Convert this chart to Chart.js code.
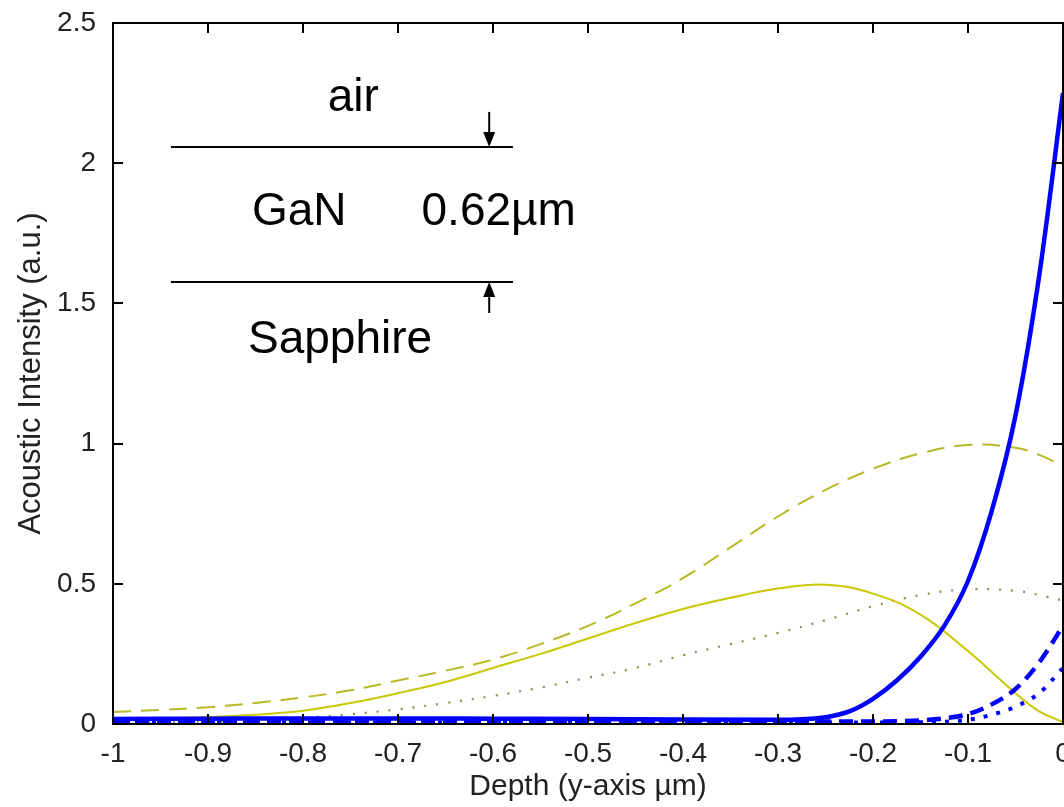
<!DOCTYPE html>
<html><head><meta charset="utf-8">
<script src="https://cdn.jsdelivr.net/npm/chart.js@4.4.0/dist/chart.umd.min.js"></script>
<style>html,body{margin:0;padding:0;background:#fff;overflow:hidden}#wrap{position:relative;width:1064px;height:807px}</style>
</head><body><div id="wrap"><canvas id="c"></canvas></div>
<script>
// ---- data ----
const depthX = [-1,-0.95,-0.9,-0.85,-0.8,-0.75,-0.7,-0.65,-0.6,-0.55,-0.5,-0.45,-0.4,-0.35,-0.3,-0.25,-0.2,-0.15,-0.1,-0.05,-0.025,0];
const yellowDashed = [0.043,0.05,0.06,0.075,0.095,0.12,0.155,0.19,0.23,0.285,0.35,0.43,0.52,0.63,0.74,0.835,0.91,0.965,0.995,0.985,0.96,0.92];
const yellowSolid  = [0.015,0.02,0.025,0.033,0.047,0.075,0.11,0.15,0.2,0.25,0.305,0.36,0.41,0.45,0.483,0.497,0.465,0.39,0.26,0.11,0.045,0.007];
const yellowDotted = [0.003,0.005,0.008,0.013,0.022,0.035,0.052,0.075,0.1,0.13,0.165,0.2,0.245,0.285,0.325,0.37,0.42,0.46,0.48,0.475,0.46,0.44];

const blueX = [-1,-0.9,-0.8,-0.7,-0.6,-0.5,-0.4,-0.3,-0.275,-0.25,-0.225,-0.2,-0.175,-0.15,-0.125,-0.1,-0.075,-0.05,-0.025,0];
const blueSolid  = [0.018,0.019,0.02,0.02,0.019,0.018,0.016,0.015,0.017,0.024,0.045,0.09,0.155,0.24,0.35,0.51,0.76,1.1,1.6,2.25];
const blueDashed = [0.01,0.01,0.011,0.011,0.01,0.01,0.01,0.009,0.009,0.009,0.009,0.009,0.01,0.013,0.02,0.035,0.07,0.125,0.22,0.35];
const blueDotted = [0.005,0.005,0.005,0.005,0.005,0.005,0.005,0.005,0.005,0.005,0.005,0.005,0.005,0.006,0.008,0.015,0.033,0.062,0.11,0.2];

const xTickLabels = ['-1','-0.9','-0.8','-0.7','-0.6','-0.5','-0.4','-0.3','-0.2','-0.1','0'];
const yTickLabels = ['0','0.5','1','1.5','2','2.5'];

// inset annotation (data units)
const inset = {
  texts: [
    {t:'air', x:-0.747, y:2.186},
    {t:'GaN', x:-0.804, y:1.78},
    {t:'0.62\u00b5m', x:-0.594, y:1.78},
    {t:'Sapphire', x:-0.761, y:1.323}
  ],
  lines: [{x1:-0.939, x2:-0.579, y:2.058},{x1:-0.939, x2:-0.579, y:1.576}],
  arrows: [{x:-0.604, from:2.183, to:2.058},{x:-0.604, from:1.466, to:1.576}]
};

const FONT = "'Liberation Sans', Arial, Helvetica, sans-serif";
const pts = (xs, ys) => xs.map((x,i)=>({x, y: ys[i]}));

const framePlugin = {
  id: 'frame',
  afterDatasetsDraw(chart) {
    const {ctx, chartArea: a, scales} = chart;
    ctx.save();
    ctx.strokeStyle = '#000';
    ctx.lineWidth = 2;
    ctx.strokeRect(a.left, a.top, a.right - a.left, a.bottom - a.top);
    const tl = 10;
    ctx.beginPath();
    scales.x.ticks.forEach(t => {
      const px = Math.round(scales.x.getPixelForValue(t.value));
      ctx.moveTo(px, a.bottom); ctx.lineTo(px, a.bottom - tl);
      ctx.moveTo(px, a.top); ctx.lineTo(px, a.top + tl);
    });
    scales.y.ticks.forEach(t => {
      const py = Math.round(scales.y.getPixelForValue(t.value));
      ctx.moveTo(a.left, py); ctx.lineTo(a.left + tl, py);
      ctx.moveTo(a.right, py); ctx.lineTo(a.right - tl, py);
    });
    ctx.stroke();

    // inset
    const X = v => scales.x.getPixelForValue(v), Y = v => scales.y.getPixelForValue(v);
    ctx.fillStyle = '#000';
    ctx.font = '46px ' + FONT;
    ctx.textAlign = 'center';
    ctx.textBaseline = 'alphabetic';
    inset.texts.forEach(o => ctx.fillText(o.t, X(o.x), Y(o.y)));
    ctx.lineWidth = 2;
    ctx.beginPath();
    inset.lines.forEach(l => { ctx.moveTo(X(l.x1), Math.round(Y(l.y))); ctx.lineTo(X(l.x2), Math.round(Y(l.y))); });
    ctx.stroke();
    inset.arrows.forEach(ar => {
      const x = X(ar.x), y0 = Y(ar.from), y1 = Y(ar.to);
      const dir = Math.sign(y1 - y0);
      const hl = 15, hw = 6;
      ctx.beginPath();
      ctx.moveTo(x, y0); ctx.lineTo(x, y1 - dir*hl);
      ctx.stroke();
      ctx.beginPath();
      ctx.moveTo(x, y1); ctx.lineTo(x - hw, y1 - dir*hl); ctx.lineTo(x + hw, y1 - dir*hl); ctx.closePath();
      ctx.fill();
    });
    ctx.restore();
  }
};

function fixX(scale){ scale.height = 83; scale.paddingLeft = 0; scale.paddingRight = 0; }
function fixY(scale){ scale.width = 113; scale.paddingTop = 0; scale.paddingBottom = 0; }

const blueCommon = {fill:false, pointRadius:0, cubicInterpolationMode:'monotone'};
const yelCommon = {fill:false, pointRadius:0, tension:0.4};
new Chart(document.getElementById('c'), {
  type: 'line',
  data: {
    datasets: [
      Object.assign({label:'blue solid', data: pts(blueX, blueSolid), borderColor:'#0000ff', borderWidth:4.5, order:1}, blueCommon),
      Object.assign({label:'blue dashed', data: pts(blueX, blueDashed), borderColor:'#0000ff', borderWidth:4.5, borderDash:[14,8], order:2}, blueCommon),
      Object.assign({label:'blue dotted', data: pts(blueX, blueDotted), borderColor:'#0000ff', borderWidth:4, borderDash:[4,9], order:3}, blueCommon),
      Object.assign({label:'yellow solid', data: pts(depthX, yellowSolid), borderColor:'#c8c800', borderWidth:2, order:4}, yelCommon),
      Object.assign({label:'yellow dashed', data: pts(depthX, yellowDashed), borderColor:'#b9b928', borderWidth:2, borderDash:[18,10], order:5}, yelCommon),
      Object.assign({label:'yellow dotted', data: pts(depthX, yellowDotted), borderColor:'#8c8c50', borderWidth:2.2, borderDash:[2,10], order:6}, yelCommon)
    ]
  },
  options: {
    responsive: true, maintainAspectRatio: false, animation: false,
    layout: {padding: {top: 23, right: 1, left: 0, bottom: 0}},
    plugins: {legend: {display:false}, tooltip: {enabled:false}},
    scales: {
      x: {
        type:'linear', min:-1, max:0,
        grid:{display:false}, border:{display:false},
        ticks:{stepSize:0.1, padding:5, color:'#222', font:{family:FONT, size:28},
          maxRotation:0, autoSkip:false,
          callback:(v,i)=>xTickLabels[i]},
        title:{display:true, text:'Depth (y-axis \u00b5m)', color:'#222', font:{family:FONT, size:30}, padding:{bottom:2, top:0}},
        afterFit: fixX
      },
      y: {
        type:'linear', min:0, max:2.5,
        grid:{display:false}, border:{display:false},
        ticks:{stepSize:0.5, padding:9, color:'#222', font:{family:FONT, size:28},
          callback:(v,i)=>yTickLabels[i]},
        title:{display:true, text:'Acoustic Intensity (a.u.)', color:'#222', font:{family:FONT, size:31}, padding:{top:13, bottom:0}},
        afterFit: fixY
      }
    }
  },
  plugins: [framePlugin]
});
</script></body></html>
